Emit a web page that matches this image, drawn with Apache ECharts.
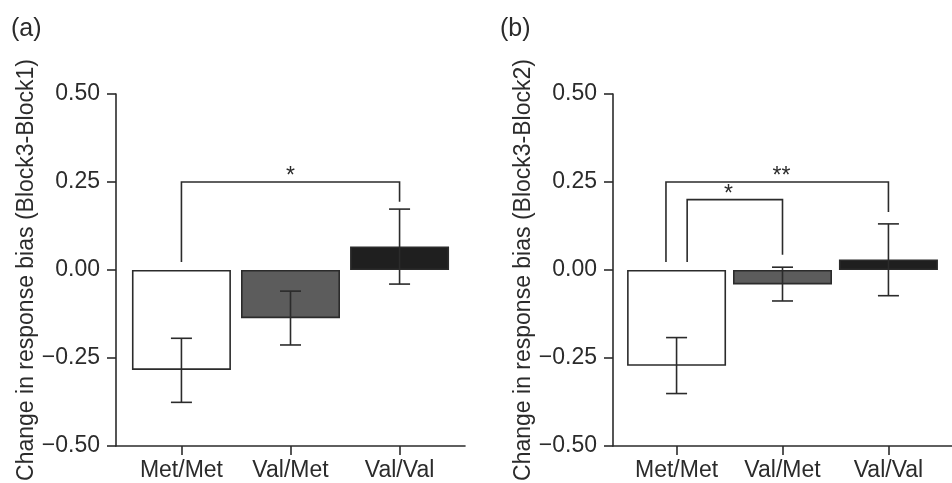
<!DOCTYPE html>
<html>
<head>
<meta charset="utf-8">
<title>Change in response bias</title>
<style>
    html, body { margin: 0; padding: 0; background: #fff; }
    #echarts { width: 952px; height: 483px; }
</style>
</head>
<body>
<div id="echarts"></div>
<script src="https://cdn.jsdelivr.net/npm/echarts@6/dist/echarts.min.js"></script>
<script>
    // 数据
    const categories = ['Met/Met', 'Val/Met', 'Val/Val'];
    const catPos = [1, 2, 3];

    // (a) Block3-Block1
    const meanA = [-0.284, -0.137, 0.067];
    const errLowA = [-0.376, -0.213, -0.040];
    const errHighA = [-0.194, -0.060, 0.173];
    // bracket: [x1, x2, yTop, yLeftEnd, yRightEnd, starX, label]
    const bracketsA = [[1, 3, 0.25, 0.023, 0.194, 2, '*']];

    // (b) Block3-Block2
    const meanB = [-0.272, -0.041, 0.030];
    const errLowB = [-0.351, -0.088, -0.073];
    const errHighB = [-0.192, 0.008, 0.131];
    const bracketsB = [
        [0.9, 3, 0.25, 0.023, 0.165, 1.99, '**'],
        [1.1, 2, 0.20, 0.023, 0.043, 1.49, '*']
    ];

    const barColors = ['#ffffff', '#5c5c5c', '#1f1f1f'];
    const ink = '#2b2b2b';
    const font = '"Liberation Sans", Arial, sans-serif';

    let myChart = echarts.init(document.getElementById('echarts'), null, {renderer: 'canvas'});

    function xAxisOf(idx) {
        return {
            type: 'value', gridIndex: idx, min: 0.4, max: 3.6,
            axisLine: {onZero: false, lineStyle: {color: ink, width: 1.6}},
            axisTick: {length: 9, lineStyle: {color: ink, width: 1.6}, customValues: catPos},
            axisLabel: {
                customValues: catPos, margin: 13, color: ink, fontSize: 23, fontFamily: font,
                formatter: v => categories[Math.round(v) - 1]
            },
            splitLine: {show: false}
        };
    }

    function yAxisOf(idx, name) {
        return {
            type: 'value', gridIndex: idx, min: -0.5, max: 0.5, interval: 0.25,
            name: name, nameLocation: 'middle', nameGap: 75,
            nameTextStyle: {color: ink, fontSize: 23, fontFamily: font},
            axisLine: {show: true, onZero: false, lineStyle: {color: ink, width: 1.6}},
            axisTick: {show: true, length: 9, lineStyle: {color: ink, width: 1.6}},
            axisLabel: {
                margin: 16, color: ink, fontSize: 23, fontFamily: font,
                formatter: v => (v < 0 ? '\u2212' : '') + Math.abs(v).toFixed(2)
            },
            splitLine: {show: false}
        };
    }

    function barSeries(idx, means) {
        return {
            type: 'bar', xAxisIndex: idx, yAxisIndex: idx, barWidth: 99,
            data: means.map((m, i) => ({
                value: [catPos[i], m],
                itemStyle: {color: barColors[i], borderColor: ink, borderWidth: 1.6}
            })),
            silent: true
        };
    }

    function errSeries(idx, lows, highs) {
        return {
            type: 'custom', xAxisIndex: idx, yAxisIndex: idx, silent: true, z: 5,
            data: lows.map((l, i) => [catPos[i], l, highs[i]]),
            renderItem: function (params, api) {
                const lo = api.coord([api.value(0), api.value(1)]);
                const hi = api.coord([api.value(0), api.value(2)]);
                const w = 10.5;
                const style = {stroke: ink, lineWidth: 1.6};
                return {
                    type: 'group', children: [
                        {type: 'line', shape: {x1: lo[0], y1: lo[1], x2: hi[0], y2: hi[1]}, style: style},
                        {type: 'line', shape: {x1: lo[0] - w, y1: lo[1], x2: lo[0] + w, y2: lo[1]}, style: style},
                        {type: 'line', shape: {x1: hi[0] - w, y1: hi[1], x2: hi[0] + w, y2: hi[1]}, style: style}
                    ]
                };
            }
        };
    }

    function bracketSeries(idx, brackets) {
        return {
            type: 'custom', xAxisIndex: idx, yAxisIndex: idx, silent: true, z: 6,
            data: brackets.map(b => b.slice(0, 6)),
            renderItem: function (params, api) {
                const b = brackets[params.dataIndex];
                const p1 = api.coord([b[0], b[3]]);
                const p2 = api.coord([b[0], b[2]]);
                const p3 = api.coord([b[1], b[2]]);
                const p4 = api.coord([b[1], b[4]]);
                const s = api.coord([b[5], b[2]]);
                return {
                    type: 'group', children: [
                        {
                            type: 'polyline',
                            shape: {points: [p1, p2, p3, p4]},
                            style: {stroke: ink, lineWidth: 1.6, fill: null}
                        },
                        {
                            type: 'text', x: s[0], y: s[1] - 5,
                            style: {
                                text: b[6], fill: ink, fontSize: 23, fontFamily: font,
                                align: 'center', verticalAlign: 'middle'
                            }
                        }
                    ]
                };
            }
        };
    }

    const option = {
        backgroundColor: '#ffffff',
        animation: false,
        grid: [
            {left: 116, top: 94, bottom: 37, width: 349},
            {left: 613, top: 94, bottom: 37, width: 351}
        ],
        xAxis: [xAxisOf(0), xAxisOf(1)],
        yAxis: [
            yAxisOf(0, 'Change in response bias (Block3-Block1)'),
            yAxisOf(1, 'Change in response bias (Block3-Block2)')
        ],
        graphic: [
            {type: 'text', left: 11, top: 17, style: {text: '(a)', fill: ink, fontSize: 25, fontFamily: font}},
            {type: 'text', left: 500, top: 17, style: {text: '(b)', fill: ink, fontSize: 25, fontFamily: font}}
        ],
        series: [
            barSeries(0, meanA),
            errSeries(0, errLowA, errHighA),
            bracketSeries(0, bracketsA),
            barSeries(1, meanB),
            errSeries(1, errLowB, errHighB),
            bracketSeries(1, bracketsB)
        ]
    };

    myChart.setOption(option);
</script>
</body>
</html>
